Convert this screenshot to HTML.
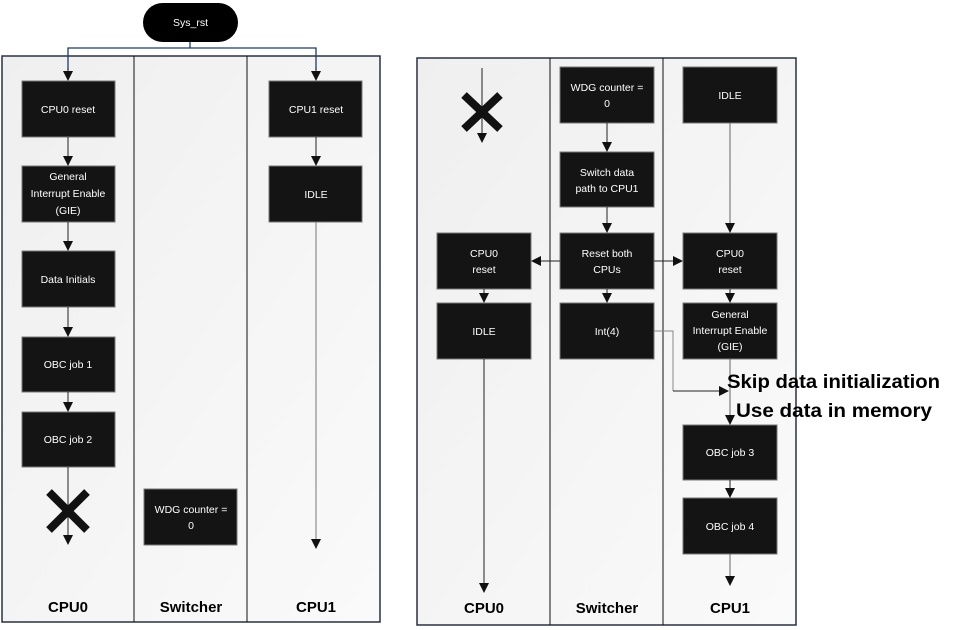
<!DOCTYPE html>
<html><head><style>
html,body{margin:0;padding:0;background:#fff;width:955px;height:630px;overflow:hidden}
svg text{font-family:"Liberation Sans",sans-serif}
.b{fill:#141414;stroke:#777;stroke-width:1}
.t{fill:#fff;font-size:10.5px;text-anchor:middle}
.l{stroke:#222;stroke-width:1;fill:none}
.h{font-size:15px;font-weight:bold;text-anchor:middle;fill:#000}
</style></head><body>
<svg width="955" height="630" viewBox="0 0 955 630" xmlns="http://www.w3.org/2000/svg">
<defs>
<marker id="a" markerWidth="10" markerHeight="10" refX="9" refY="5" orient="auto" markerUnits="userSpaceOnUse">
<path d="M0,0 L10,5 L0,10 z" fill="#111"/></marker>
<linearGradient id="g" x1="0" y1="0" x2="1" y2="1"><stop offset="0" stop-color="#efefef"/><stop offset="1" stop-color="#fafafa"/></linearGradient>
</defs>
<!-- left pool -->
<rect x="2" y="56" width="378" height="566" fill="url(#g)" stroke="#2a3040" stroke-width="1.5"/>
<line x1="134" y1="56" x2="134" y2="622" stroke="#111"/>
<line x1="247" y1="56" x2="247" y2="622" stroke="#111"/>
<text class="h" x="68" y="612">CPU0</text>
<text class="h" x="191" y="612">Switcher</text>
<text class="h" x="316" y="612">CPU1</text>
<!-- sys_rst -->
<rect x="143" y="3" width="95" height="39" rx="19.5" fill="#000"/>
<text class="t" x="190.5" y="26">Sys_rst</text>
<path d="M190,42 V48 H68 V70 M190,48 H316 V70" stroke="#1f3a68" stroke-width="1.3" fill="none"/>
<line class="l" x1="68" y1="68" x2="68" y2="80" marker-end="url(#a)"/>
<line class="l" x1="316" y1="68" x2="316" y2="80" marker-end="url(#a)"/>
<!-- left boxes -->
<rect class="b" x="22" y="81" width="93" height="56"/><text class="t" x="68" y="113">CPU0 reset</text>
<rect class="b" x="22" y="166" width="93" height="56"/><text class="t" x="68" y="180">General</text><text class="t" x="68" y="197">Interrupt Enable</text><text class="t" x="68" y="214">(GIE)</text>
<rect class="b" x="22" y="251" width="93" height="56"/><text class="t" x="68" y="283">Data Initials</text>
<rect class="b" x="22" y="337" width="93" height="55"/><text class="t" x="68" y="368">OBC job 1</text>
<rect class="b" x="22" y="412" width="93" height="55"/><text class="t" x="68" y="443">OBC job 2</text>
<line class="l" x1="68" y1="137" x2="68" y2="165" marker-end="url(#a)"/>
<line class="l" x1="68" y1="222" x2="68" y2="250" marker-end="url(#a)"/>
<line class="l" x1="68" y1="307" x2="68" y2="336" marker-end="url(#a)"/>
<line class="l" x1="68" y1="392" x2="68" y2="411" marker-end="url(#a)"/>
<line class="l" x1="68" y1="467" x2="68" y2="544" marker-end="url(#a)"/>
<path d="M49,492 L87,530 M87,492 L49,530" stroke="#111" stroke-width="8"/>
<rect class="b" x="144" y="489" width="93" height="56"/><text class="t" x="191" y="513">WDG counter =</text><text class="t" x="191" y="529">0</text>
<rect class="b" x="269" y="81" width="93" height="56"/><text class="t" x="316" y="113">CPU1 reset</text>
<rect class="b" x="269" y="166" width="93" height="56"/><text class="t" x="316" y="198">IDLE</text>
<line class="l" x1="316" y1="137" x2="316" y2="165" marker-end="url(#a)"/>
<line x1="316" y1="222" x2="316" y2="548" stroke="#777" marker-end="url(#a)"/>
<!-- right pool -->
<rect x="417" y="58" width="379" height="567" fill="url(#g)" stroke="#2a3040" stroke-width="1.5"/>
<line x1="550" y1="58" x2="550" y2="625" stroke="#111"/>
<line x1="663" y1="58" x2="663" y2="625" stroke="#111"/>
<text class="h" x="484" y="613">CPU0</text>
<text class="h" x="607" y="613">Switcher</text>
<text class="h" x="730" y="613">CPU1</text>
<line class="l" x1="482" y1="68" x2="482" y2="142" marker-end="url(#a)"/>
<path d="M464,95 L500,129 M500,95 L464,129" stroke="#111" stroke-width="8"/>
<rect class="b" x="560" y="67" width="94" height="56"/><text class="t" x="607" y="91">WDG counter =</text><text class="t" x="607" y="107">0</text>
<rect class="b" x="560" y="152" width="94" height="55"/><text class="t" x="607" y="176">Switch data</text><text class="t" x="607" y="192">path to CPU1</text>
<rect class="b" x="560" y="233" width="94" height="56"/><text class="t" x="607" y="257">Reset both</text><text class="t" x="607" y="273">CPUs</text>
<rect class="b" x="560" y="303" width="94" height="56"/><text class="t" x="607" y="335">Int(4)</text>
<line class="l" x1="607" y1="123" x2="607" y2="151" marker-end="url(#a)"/>
<line class="l" x1="607" y1="207" x2="607" y2="232" marker-end="url(#a)"/>
<line class="l" x1="607" y1="289" x2="607" y2="302" marker-end="url(#a)"/>
<rect class="b" x="437" y="233" width="94" height="56"/><text class="t" x="484" y="257">CPU0</text><text class="t" x="484" y="273">reset</text>
<rect class="b" x="437" y="303" width="94" height="56"/><text class="t" x="484" y="335">IDLE</text>
<line class="l" x1="560" y1="261" x2="532" y2="261" marker-end="url(#a)"/>
<line class="l" x1="654" y1="261" x2="682" y2="261" marker-end="url(#a)"/>
<line class="l" x1="484" y1="289" x2="484" y2="302" marker-end="url(#a)"/>
<line class="l" x1="484" y1="359" x2="484" y2="592" marker-end="url(#a)"/>
<rect class="b" x="683" y="67" width="94" height="56"/><text class="t" x="730" y="99">IDLE</text>
<rect class="b" x="683" y="233" width="94" height="56"/><text class="t" x="730" y="257">CPU0</text><text class="t" x="730" y="273">reset</text>
<rect class="b" x="683" y="303" width="94" height="56"/><text class="t" x="730" y="318">General</text><text class="t" x="730" y="334">Interrupt Enable</text><text class="t" x="730" y="350">(GIE)</text>
<rect class="b" x="683" y="425" width="94" height="55"/><text class="t" x="730" y="456">OBC job 3</text>
<rect class="b" x="683" y="498" width="94" height="56"/><text class="t" x="730" y="530">OBC job 4</text>
<line x1="730" y1="123" x2="730" y2="232" stroke="#666" marker-end="url(#a)"/>
<line class="l" x1="730" y1="289" x2="730" y2="302" marker-end="url(#a)"/>
<line x1="730" y1="359" x2="730" y2="424" stroke="#666" marker-end="url(#a)"/>
<line class="l" x1="730" y1="480" x2="730" y2="497" marker-end="url(#a)"/>
<line x1="730" y1="554" x2="730" y2="585" stroke="#666" marker-end="url(#a)"/>
<path d="M654,331 H673 V391" stroke="#888" fill="none"/>
<line class="l" x1="673" y1="391" x2="728" y2="391" marker-end="url(#a)"/>
<text x="727" y="388" font-size="19" font-weight="bold" fill="#000" textLength="213" lengthAdjust="spacingAndGlyphs">Skip data initialization</text>
<text x="736" y="417" font-size="19" font-weight="bold" fill="#000" textLength="196" lengthAdjust="spacingAndGlyphs">Use data in memory</text>
</svg>
</body></html>
